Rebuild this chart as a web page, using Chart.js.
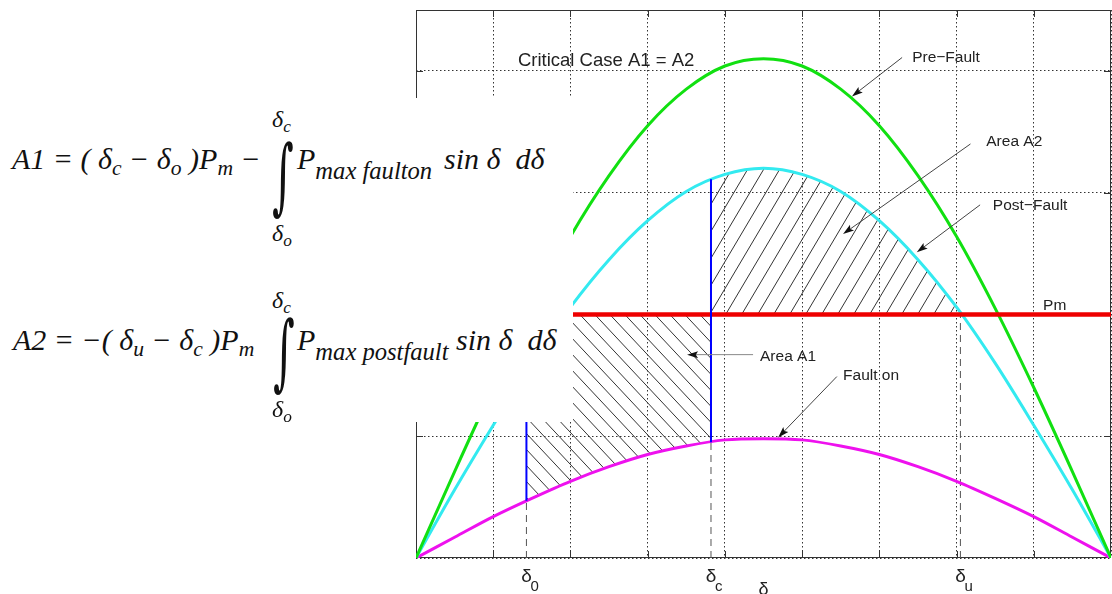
<!DOCTYPE html>
<html>
<head>
<meta charset="utf-8">
<script src="https://cdn.jsdelivr.net/npm/chart.js@4.4.1/dist/chart.umd.min.js"></script>
<style>
  html, body { margin: 0; padding: 0; background: #fff; }
  #wrap { position: relative; width: 1112px; height: 594px; overflow: hidden; }
  #eqBox { position: absolute; left: 0; top: 98px; width: 573px; height: 324px; background: #fff; }
  .eq { position: absolute; font-family: 'Liberation Serif', 'Times New Roman', serif; font-style: italic;
        font-size: 30px; line-height: 1; color: #111; white-space: nowrap; }
  .eq sub { font-size: 0.72em; vertical-align: -0.3em; line-height: 0; }
  .eq sub.wide { font-size: 0.82em; vertical-align: -0.4em; }
  .eq.small { font-size: 24px; }
  .int { position: absolute; font-family: 'DejaVu Serif', 'Liberation Serif', serif; font-size: 62px;
         line-height: 1; color: #111; transform-origin: 0 0; transform: scale(0.67, 1.34); }
</style>
</head>
<body>
<div id="wrap">
  <canvas id="chart" width="1112" height="594"></canvas>
  <div id="eqBox">
    <!-- A1 -->
    <span class="eq" style="left:12px; top:46px;">A1 = ( δ<sub>c</sub> − δ<sub>o</sub> )P<sub>m</sub> −</span>
    <span class="int" style="left:272px; top:36px;">∫</span>
    <span class="eq small" style="left:272px; top:9px;">δ<sub>c</sub></span>
    <span class="eq small" style="left:272px; top:123px;">δ<sub>o</sub></span>
    <span class="eq" style="left:297px; top:46px;">P<sub class="wide">max faulton</sub></span>
    <span class="eq" style="left:444px; top:46px;">sin δ&nbsp; dδ</span>
    <!-- A2 -->
    <span class="eq" style="left:13px; top:227px;">A2 = −( δ<sub>u</sub> − δ<sub>c</sub> )P<sub>m</sub></span>
    <span class="int" style="left:273px; top:212px;">∫</span>
    <span class="eq small" style="left:272px; top:190px;">δ<sub>c</sub></span>
    <span class="eq small" style="left:272px; top:299px;">δ<sub>o</sub></span>
    <span class="eq" style="left:297px; top:227px;">P<sub class="wide">max postfault</sub></span>
    <span class="eq" style="left:456px; top:227px;">sin δ&nbsp; dδ</span>
  </div>
</div>
<script>
// Rotor angle samples (degrees) and power curves
const deltaDeg = [0, 10, 20, 30, 40, 50, 60, 70, 80, 90, 100, 110, 120, 130, 140, 150, 160, 170, 180];
const preFault = [0, 0.71, 1.40, 2.05, 2.64, 3.14, 3.55, 3.85, 4.04, 4.10, 4.04, 3.85, 3.55, 3.14, 2.64, 2.05, 1.40, 0.71, 0];
const postFault = [0, 0.56, 1.09, 1.60, 2.06, 2.45, 2.77, 3.01, 3.15, 3.20, 3.15, 3.01, 2.77, 2.45, 2.06, 1.60, 1.09, 0.56, 0];
const faultOn = [0, 0.17, 0.34, 0.49, 0.63, 0.75, 0.85, 0.92, 0.97, 0.98, 0.97, 0.92, 0.85, 0.75, 0.63, 0.49, 0.34, 0.17, 0];

const pm = 2;
const delta0 = 28.6;
const deltaC = 76.4;
const deltaU = 141;
const faultOnAtDelta0 = 0.47;
const faultOnAtDeltaC = 0.95;
const postFaultAtDeltaC = 3.11;

// Custom angle labels under the axis
const angleLabels = [
    { main: 'δ', sub: '0', value: delta0 },
    { main: 'δ', sub: 'c', value: deltaC },
    { main: 'δ', sub: 'u', value: deltaU }
];

// Text notes: text anchor, arrow tail and arrow tip, in data units
const notes = [
    { text: 'Critical Case A1 = A2', x: 26.4, y: 4.04, big: true },
    { text: 'Pre\u2212Fault', x: 128.5, y: 4.07, tail: [125.9, 4.11], tip: [112.9, 3.79] },
    { text: 'Area A2', x: 147.7, y: 3.38, tail: [143.6, 3.40], tip: [110.6, 2.66] },
    { text: 'Post\u2212Fault', x: 149.4, y: 2.86, tail: [146.1, 2.90], tip: [129.7, 2.51] },
    { text: 'Pm', x: 162.4, y: 2.04 },
    { text: 'Area A1', x: 89.1, y: 1.62, tail: [87.3, 1.67], tip: [70.2, 1.67], grey: true },
    { text: 'Fault on', x: 110.6, y: 1.46, tail: [109.0, 1.49], tip: [93.8, 0.99] }
];

const toPoints = (xs, ys) => xs.map((x, i) => ({ x: x, y: ys[i] }));

function hatch(w, h, forward) {
    const c = document.createElement('canvas');
    c.width = w;
    c.height = h;
    const g = c.getContext('2d');
    g.strokeStyle = '#333';
    g.lineWidth = 1;
    g.beginPath();
    for (const off of [-w, 0, w]) {
        if (forward) {
            g.moveTo(off, h);
            g.lineTo(off + w, 0);
        } else {
            g.moveTo(off, 0);
            g.lineTo(off + w, h);
        }
    }
    g.stroke();
    return g.createPattern(c, 'repeat');
}

const ctx = document.getElementById('chart').getContext('2d');

function drawArrow(c, x1, y1, x2, y2, color) {
    const ang = Math.atan2(y2 - y1, x2 - x1);
    const len = 11, half = 3.5;
    c.strokeStyle = color;
    c.lineWidth = 1;
    c.beginPath();
    c.moveTo(x1, y1);
    c.lineTo(x2 - Math.cos(ang) * len * 0.8, y2 - Math.sin(ang) * len * 0.8);
    c.stroke();
    c.fillStyle = '#111';
    c.beginPath();
    c.moveTo(x2, y2);
    c.lineTo(x2 - Math.cos(ang) * len + Math.sin(ang) * half, y2 - Math.sin(ang) * len - Math.cos(ang) * half);
    c.lineTo(x2 - Math.cos(ang) * len * 0.8, y2 - Math.sin(ang) * len * 0.8);
    c.lineTo(x2 - Math.cos(ang) * len - Math.sin(ang) * half, y2 - Math.sin(ang) * len + Math.cos(ang) * half);
    c.closePath();
    c.fill();
}

const overlay = {
    id: 'overlay',
    beforeDatasetsDraw(chart) {
        const { ctx: c, chartArea: a, scales: { x, y } } = chart;
        c.save();
        c.strokeStyle = '#333';
        c.lineWidth = 1;
        c.beginPath();
        x.ticks.forEach(t => {
            if (t.value <= x.min || t.value >= x.max) return;
            const px = Math.round(x.getPixelForValue(t.value)) + 0.5;
            c.moveTo(px, a.bottom); c.lineTo(px, a.bottom - 7);
            c.moveTo(px, a.top); c.lineTo(px, a.top + 7);
        });
        y.ticks.forEach(t => {
            if (t.value <= y.min || t.value >= y.max) return;
            const py = Math.round(y.getPixelForValue(t.value)) + 0.5;
            c.moveTo(a.left, py); c.lineTo(a.left + 7, py);
            c.moveTo(a.right, py); c.lineTo(a.right - 7, py);
        });
        c.stroke();
        c.strokeRect(Math.round(a.left) + 0.5, Math.round(a.top) + 0.5,
            Math.round(a.right - a.left) - 1, Math.round(a.bottom - a.top) - 1);
        c.restore();
    },
    afterDatasetsDraw(chart) {
        const { ctx: c, scales: { x, y } } = chart;
        c.save();
        notes.forEach(n => {
            c.font = (n.big ? '18.5px' : '15.5px') + ' "Liberation Sans", Arial, sans-serif';
            c.fillStyle = '#222';
            c.textAlign = 'left';
            c.textBaseline = 'alphabetic';
            c.fillText(n.text, x.getPixelForValue(n.x), y.getPixelForValue(n.y));
            if (n.tail) {
                drawArrow(c, x.getPixelForValue(n.tail[0]), y.getPixelForValue(n.tail[1]),
                    x.getPixelForValue(n.tip[0]), y.getPixelForValue(n.tip[1]), n.grey ? '#888' : '#444');
            }
        });
        c.restore();
    },
    afterDraw(chart) {
        const { ctx: c, chartArea: a, scales: { x } } = chart;
        c.save();
        c.fillStyle = '#222';
        c.textBaseline = 'alphabetic';
        angleLabels.forEach(l => {
            const px = x.getPixelForValue(l.value);
            c.font = '19px "Liberation Sans", Arial, sans-serif';
            c.textAlign = 'center';
            c.fillText(l.main, px, a.bottom + 24);
            c.font = '15px "Liberation Sans", Arial, sans-serif';
            c.textAlign = 'left';
            c.fillText(l.sub, px + 4, a.bottom + 33);
        });
        c.font = '18px "Liberation Sans", Arial, sans-serif';
        c.textAlign = 'center';
        c.fillText('δ', x.getPixelForValue(90), a.bottom + 37);
        c.restore();
    }
};

const curve = (data, color) => ({
    data: data, borderColor: color, borderWidth: 3, pointRadius: 0,
    cubicInterpolationMode: 'monotone', fill: false
});
const straight = (data, color, width, dash) => ({
    data: data, borderColor: color, borderWidth: width, borderDash: dash || [],
    pointRadius: 0, tension: 0, fill: false
});

const datasets = [
    straight([{ x: deltaC, y: faultOnAtDeltaC }, { x: deltaC, y: postFaultAtDeltaC }], '#0000ff', 2),
    straight([{ x: delta0, y: faultOnAtDelta0 }, { x: delta0, y: pm }], '#0000ff', 2),
    straight([{ x: 0, y: pm }, { x: 180, y: pm }], '#ee0000', 4.5),
    curve(toPoints(deltaDeg, preFault), '#11e011'),
    curve(toPoints(deltaDeg, postFault), '#33eaf0'),
    curve(toPoints(deltaDeg, faultOn), '#ee11ee'),
    straight([{ x: delta0, y: 0 }, { x: delta0, y: faultOnAtDelta0 }], '#555', 1, [7, 5]),
    straight([{ x: deltaC, y: 0 }, { x: deltaC, y: faultOnAtDeltaC }], '#555', 1, [7, 5]),
    straight([{ x: deltaU, y: 0 }, { x: deltaU, y: pm }], '#555', 1, [7, 5])
];
// Hatched areas: A1 between Pm and fault-on curve, A2 between Pm and post-fault curve
datasets.push({
    data: [{ x: delta0, y: pm }, { x: deltaC, y: pm }], borderWidth: 0, borderColor: 'transparent',
    pointRadius: 0, fill: { target: 5 }, backgroundColor: hatch(15, 16, false)
});
datasets.push({
    data: [{ x: deltaC, y: pm }, { x: deltaU, y: pm }], borderWidth: 0, borderColor: 'transparent',
    pointRadius: 0, fill: { target: 4 }, backgroundColor: hatch(16, 27, true)
});

new Chart(ctx, {
    type: 'line',
    data: { datasets: datasets },
    options: {
        responsive: false,
        animation: false,
        layout: { padding: { left: 416, top: 10, right: 1, bottom: 36 } },
        plugins: { legend: { display: false }, tooltip: { enabled: false } },
        scales: {
            x: {
                type: 'linear', min: 0, max: 180,
                ticks: { display: false, stepSize: 20 },
                grid: { color: '#333', lineWidth: 1, drawTicks: false },
                border: { display: false, dash: [1.5, 2.5] }
            },
            y: {
                type: 'linear', min: 0, max: 4.5,
                ticks: { display: false, stepSize: 1 },
                grid: { color: '#333', lineWidth: 1, drawTicks: false },
                border: { display: false, dash: [1.5, 2.5] }
            }
        }
    },
    plugins: [overlay]
});
</script>
</body>
</html>
